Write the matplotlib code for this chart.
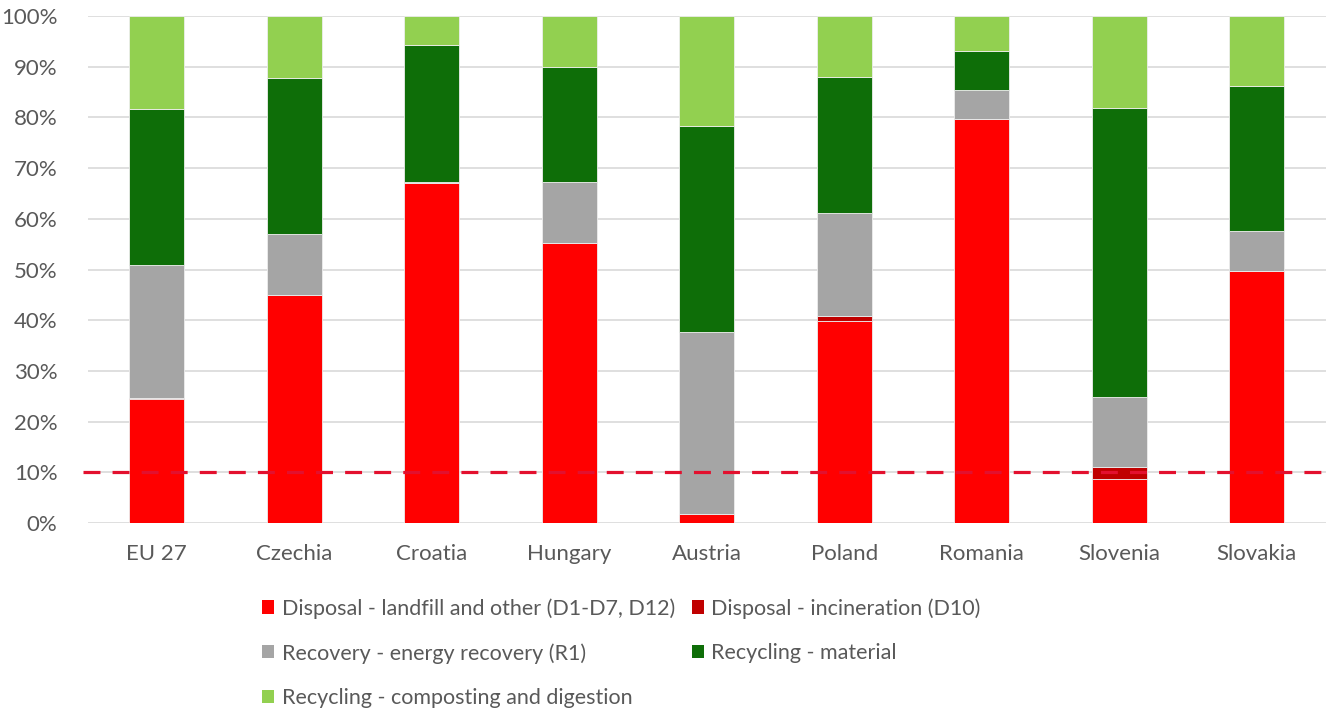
import matplotlib
matplotlib.use("Agg")
import matplotlib.pyplot as plt
from matplotlib.patches import Patch
import numpy as np

plt.rcParams['font.family'] = ['Lato', 'DejaVu Sans']

countries = ["EU 27", "Czechia", "Croatia", "Hungary", "Austria",
             "Poland", "Romania", "Slovenia", "Slovakia"]
landfill = [24.4, 45.0, 67.0, 55.2, 1.8, 39.9, 79.7, 8.7, 49.7]
incineration = [0.3, 0.0, 0.1, 0.0, 0.0, 0.9, 0.0, 2.3, 0.0]
energy_recovery = [26.2, 12.0, 0.2, 12.1, 35.9, 20.3, 5.7, 13.9, 7.9]
recycling_material = [30.8, 30.8, 27.0, 22.6, 40.6, 26.9, 7.7, 57.0, 28.6]
composting = [18.3, 12.2, 5.7, 10.1, 21.7, 12.0, 6.9, 18.1, 13.8]
target_share = 10

series = [
    ("Disposal - landfill and other (D1-D7, D12)", landfill, "#FF0000"),
    ("Disposal - incineration (D10)", incineration, "#C00000"),
    ("Recovery - energy recovery (R1)", energy_recovery, "#A5A5A5"),
    ("Recycling - material", recycling_material, "#0E6E08"),
    ("Recycling - composting and digestion", composting, "#92D050"),
]

text_color = "#595959"
fig = plt.figure(figsize=(13.27, 7.11), dpi=100)
ax = fig.add_axes([0.0663, 0.2644, 0.9327, 0.7131])

x = np.arange(len(countries))
bottom = np.zeros(len(countries))
handles = []
for label, vals, color in series:
    vals = np.array(vals, dtype=float)
    ax.bar(x, vals, width=0.4, bottom=bottom, color=color,
           edgecolor="#EDEDED", linewidth=0.6, zorder=2)
    bottom += vals
    handles.append(Patch(facecolor=color, label=label))

ax.plot([-0.535, 8.5], [target_share, target_share], color="#E3102E",
        linewidth=2.3, dashes=(5.3, 3.8), zorder=4, clip_on=False)

ax.set_xlim(-0.5, 8.5)
ax.set_ylim(0, 100)
ax.set_yticks(np.arange(0, 101, 10))
ax.set_yticklabels([f"{v}%" for v in range(0, 101, 10)])
ax.set_xticks(x)
ax.set_xticklabels(countries)
ax.tick_params(axis="both", length=0, labelsize=16, colors=text_color)
ax.tick_params(axis="y", pad=22)
ax.tick_params(axis="x", pad=15)
ax.grid(axis="y", color="#D9D9D9", linewidth=1.2, zorder=0)
for s in ax.spines.values():
    s.set_visible(False)

order = [0, 2, 4, 1, 3]
fig.legend([handles[i] for i in order], [handles[i].get_label() for i in order],
           ncol=2, loc="upper left", bbox_to_anchor=(0.191, 0.171),
           frameon=False, fontsize=15.5, labelcolor=text_color,
           handlelength=0.56, handleheight=0.56, handletextpad=0.35,
           labelspacing=1.13, columnspacing=0.78, borderaxespad=0)

fig.savefig("out.png", dpi=100)
